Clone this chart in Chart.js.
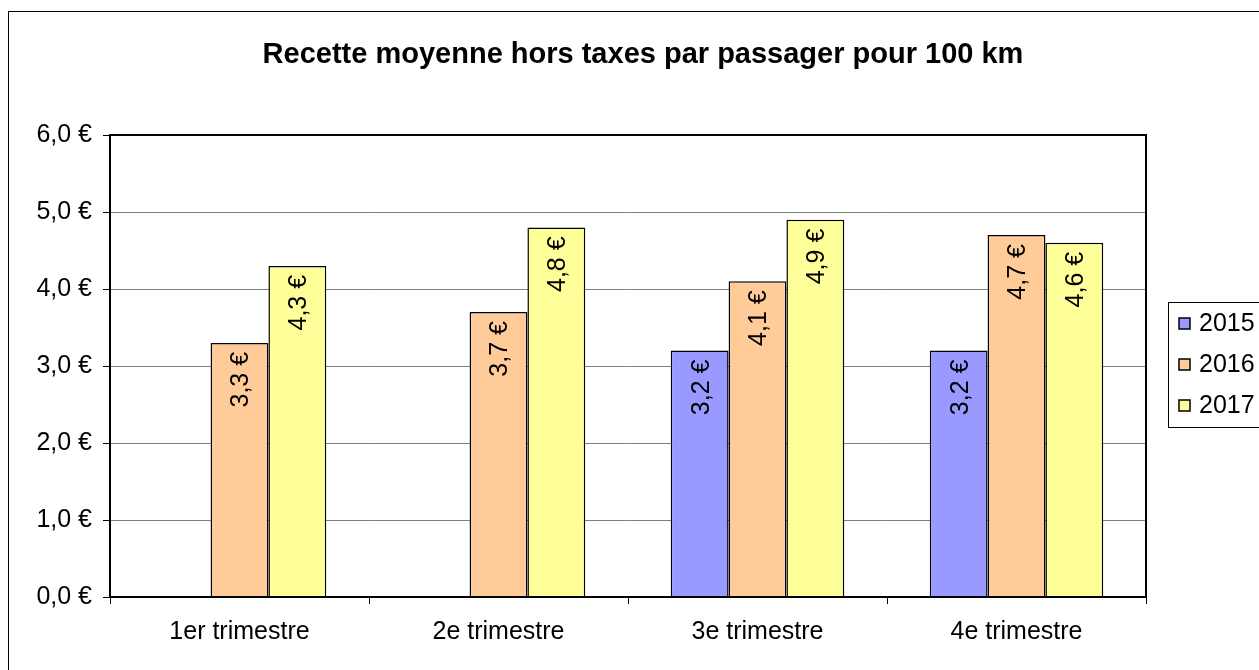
<!DOCTYPE html>
<html>
<head>
<meta charset="utf-8">
<script src="https://cdn.jsdelivr.net/npm/chart.js@4/dist/chart.umd.min.js"></script>
<style>
  html, body { margin: 0; padding: 0; background: #fff; }
  #wrap { width: 1259px; height: 670px; }
</style>
</head>
<body>
<div id="wrap"><canvas id="RecetteChart" width="1259" height="670"></canvas></div>
<script>
// Data
const quarters = ['1er trimestre', '2e trimestre', '3e trimestre', '4e trimestre'];
const years = ['2015', '2016', '2017'];
const values2015 = [null, null, 3.2, 3.2];
const values2016 = [3.3, 3.7, 4.1, 4.7];
const values2017 = [4.3, 4.8, 4.9, 4.6];
const yTicks = [0, 1, 2, 3, 4, 5, 6];

const colors = ['#9999FF', '#FFCC99', '#FFFF99'];
const FONT = 'Liberation Sans, Arial, sans-serif';

function euro(v) {
    return v.toFixed(1).replace('.', ',') + ' €';
}

// Outer frame, title, plot frame, rotated value labels and legend box
const decorPlugin = {
    id: 'decor',
    beforeDraw(chart) {
        const ctx = chart.ctx;
        ctx.save();
        ctx.fillStyle = '#fff';
        ctx.fillRect(0, 0, chart.width, chart.height);
        ctx.strokeStyle = '#000';
        ctx.lineWidth = 1;
        ctx.strokeRect(8.5, 11.5, 1400, 800);
        ctx.fillStyle = '#000';
        ctx.font = 'bold 29px ' + FONT;
        ctx.textAlign = 'center';
        ctx.textBaseline = 'middle';
        ctx.fillText('Recette moyenne hors taxes par passager pour 100 km', 643, 55);
        ctx.restore();
    },
    afterDraw(chart) {
        const ctx = chart.ctx;
        const a = chart.chartArea;
        ctx.save();
        // plot frame
        ctx.strokeStyle = '#000';
        ctx.lineWidth = 2;
        ctx.strokeRect(a.left, a.top, a.right - a.left, a.bottom - a.top);

        // value labels, rotated
        ctx.fillStyle = '#000';
        ctx.font = '25px ' + FONT;
        ctx.textAlign = 'right';
        ctx.textBaseline = 'middle';
        chart.data.datasets.forEach((ds, i) => {
            chart.getDatasetMeta(i).data.forEach((bar, j) => {
                const v = ds.data[j];
                if (v === null || v === undefined) return;
                ctx.save();
                ctx.translate(bar.x + 2, bar.y + 9);
                ctx.rotate(-Math.PI / 2);
                ctx.fillText(euro(v), 0, 0);
                ctx.restore();
            });
        });

        // legend
        ctx.strokeStyle = '#000';
        ctx.lineWidth = 1;
        ctx.strokeRect(1168.5, 302.5, 200, 125);
        ctx.font = '25px ' + FONT;
        ctx.textAlign = 'left';
        ctx.textBaseline = 'middle';
        const rowY = [324, 365, 406];
        chart.data.datasets.forEach((ds, i) => {
            ctx.fillStyle = ds.backgroundColor;
            ctx.fillRect(1179, rowY[i] - 6, 11, 11);
            ctx.strokeStyle = '#000';
            ctx.lineWidth = 1.5;
            ctx.strokeRect(1179, rowY[i] - 6, 11, 11);
            ctx.fillStyle = '#000';
            ctx.fillText(ds.label, 1199, rowY[i]);
        });
        ctx.restore();
    }
};

const config = {
    type: 'bar',
    data: {
        labels: quarters,
        datasets: [
            { label: years[0], data: values2015, backgroundColor: colors[0], borderColor: '#000', borderWidth: 1.5 },
            { label: years[1], data: values2016, backgroundColor: colors[1], borderColor: '#000', borderWidth: 1.5 },
            { label: years[2], data: values2017, backgroundColor: colors[2], borderColor: '#000', borderWidth: 1.5 }
        ]
    },
    options: {
        responsive: false,
        animation: false,
        layout: { padding: { left: 0, right: 113, top: 135, bottom: 0 } },
        plugins: {
            legend: { display: false },
            title: { display: false },
            tooltip: { enabled: false }
        },
        datasets: {
            bar: { categoryPercentage: 0.67, barPercentage: 1.0 }
        },
        scales: {
            x: {
                offset: true,
                grid: {
                    display: true,
                    offset: true,
                    drawOnChartArea: false,
                    drawTicks: true,
                    tickLength: 7,
                    tickColor: '#000'
                },
                border: { display: true, color: '#000', width: 2 },
                ticks: { color: '#000', font: { family: FONT, size: 25 }, padding: 13, maxRotation: 0 },
                afterFit(scale) { scale.height = 73; }
            },
            y: {
                min: 0,
                max: 6,
                afterBuildTicks(scale) { scale.ticks = yTicks.map(v => ({ value: v })); },
                grid: {
                    color: '#808080',
                    lineWidth: 1,
                    drawTicks: true,
                    tickLength: 7,
                    tickColor: '#000'
                },
                border: { display: true, color: '#000', width: 2 },
                ticks: {
                    color: '#000',
                    font: { family: FONT, size: 25 },
                    padding: 11,
                    callback: v => euro(v)
                },
                afterFit(scale) { scale.width = 110; }
            }
        }
    },
    plugins: [decorPlugin]
};

new Chart(document.getElementById('RecetteChart').getContext('2d'), config);
</script>
</body>
</html>
